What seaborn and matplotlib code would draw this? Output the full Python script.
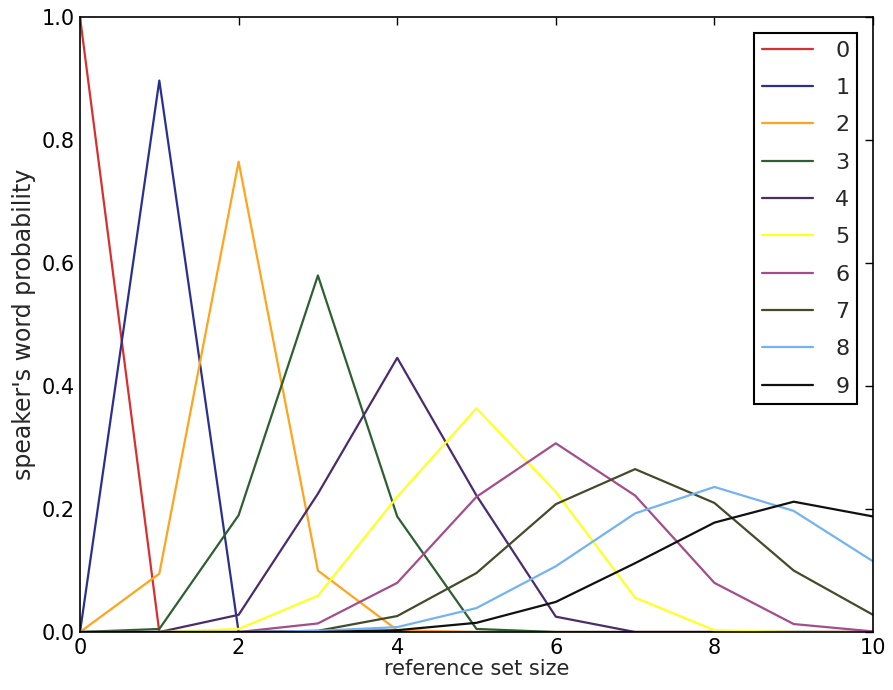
import matplotlib
matplotlib.use("Agg")
import matplotlib.pyplot as plt
import seaborn as sns
import pandas as pd

x_vals = [0, 1, 2, 3, 4, 5, 6, 7, 8, 9, 10]
s0 = [1.0, 0.0, 0.0, 0.0, 0.0, 0.0, 0.0, 0.0, 0.0, 0.0, 0.0]
s1 = [0.0, 0.897, 0.0, 0.0, 0.0, 0.0, 0.0, 0.0, 0.0, 0.0, 0.0]
s2 = [0.0, 0.095, 0.765, 0.100, 0.003, 0.0, 0.0, 0.0, 0.0, 0.0, 0.0]
s3 = [0.0, 0.005, 0.190, 0.580, 0.188, 0.005, 0.0, 0.0, 0.0, 0.0, 0.0]
s4 = [0.0, 0.0, 0.028, 0.225, 0.446, 0.222, 0.025, 0.0, 0.0, 0.0, 0.0]
s5 = [0.0, 0.0, 0.005, 0.059, 0.220, 0.364, 0.228, 0.056, 0.003, 0.0, 0.0]
s6 = [0.0, 0.0, 0.0, 0.014, 0.080, 0.220, 0.307, 0.222, 0.080, 0.013, 0.001]
s7 = [0.0, 0.0, 0.0, 0.002, 0.026, 0.096, 0.208, 0.265, 0.210, 0.100, 0.028]
s8 = [0.0, 0.0, 0.0, 0.002, 0.008, 0.039, 0.107, 0.193, 0.236, 0.197, 0.115]
s9 = [0.0, 0.0, 0.0, 0.0, 0.003, 0.015, 0.049, 0.112, 0.178, 0.212, 0.188]
series = [s0, s1, s2, s3, s4, s5, s6, s7, s8, s9]
labels = ["0", "1", "2", "3", "4", "5", "6", "7", "8", "9"]
colors = ["#d8302e", "#2b2f90", "#ffa41c", "#2d6030", "#4a2c6c",
          "#ffff22", "#a34d8a", "#434b2a", "#74b3f0", "#111111"]

rows = []
for lab, vals in zip(labels, series):
    for xv, yv in zip(x_vals, vals):
        rows.append({"size": xv, "prob": yv, "speaker": lab})
df = pd.DataFrame(rows)

sns.set_style("white")
plt.rcParams["font.family"] = ["DejaVu Sans"]
fig = plt.figure(figsize=(8.93, 6.90), dpi=100)
ax = fig.add_axes([0.0896, 0.084, 0.888, 0.891])

sns.lineplot(data=df, x="size", y="prob", hue="speaker", palette=colors,
             hue_order=labels, linewidth=1.6, ax=ax, legend=True)

ax.set_xlim(0, 10)
ax.set_ylim(0, 1.0)
ax.set_xticks([0, 2, 4, 6, 8, 10])
ax.set_yticks([0.0, 0.2, 0.4, 0.6, 0.8, 1.0])
ax.set_yticklabels(["0.0", "0.2", "0.4", "0.6", "0.8", "1.0"])
ax.tick_params(direction="in", top=True, right=True, length=6, width=1,
               labelsize=15, color="black", labelcolor="black", pad=4)
for sp in ax.spines.values():
    sp.set_color("black")
    sp.set_linewidth(1.2)
ax.set_xlabel("reference set size", fontsize=15, labelpad=1)
ax.set_ylabel("speaker's word probability", fontsize=17, labelpad=4)

handles, _ = ax.get_legend_handles_labels()
leg = ax.legend(handles, labels, loc="upper right", fontsize=16,
                fancybox=False, framealpha=1, edgecolor="black",
                handlelength=2.3, labelspacing=0.78, borderpad=0.35,
                handletextpad=1.0, borderaxespad=0.7)
leg.get_frame().set_linewidth(1.5)

fig.savefig("out.png", dpi=100, facecolor="white")
